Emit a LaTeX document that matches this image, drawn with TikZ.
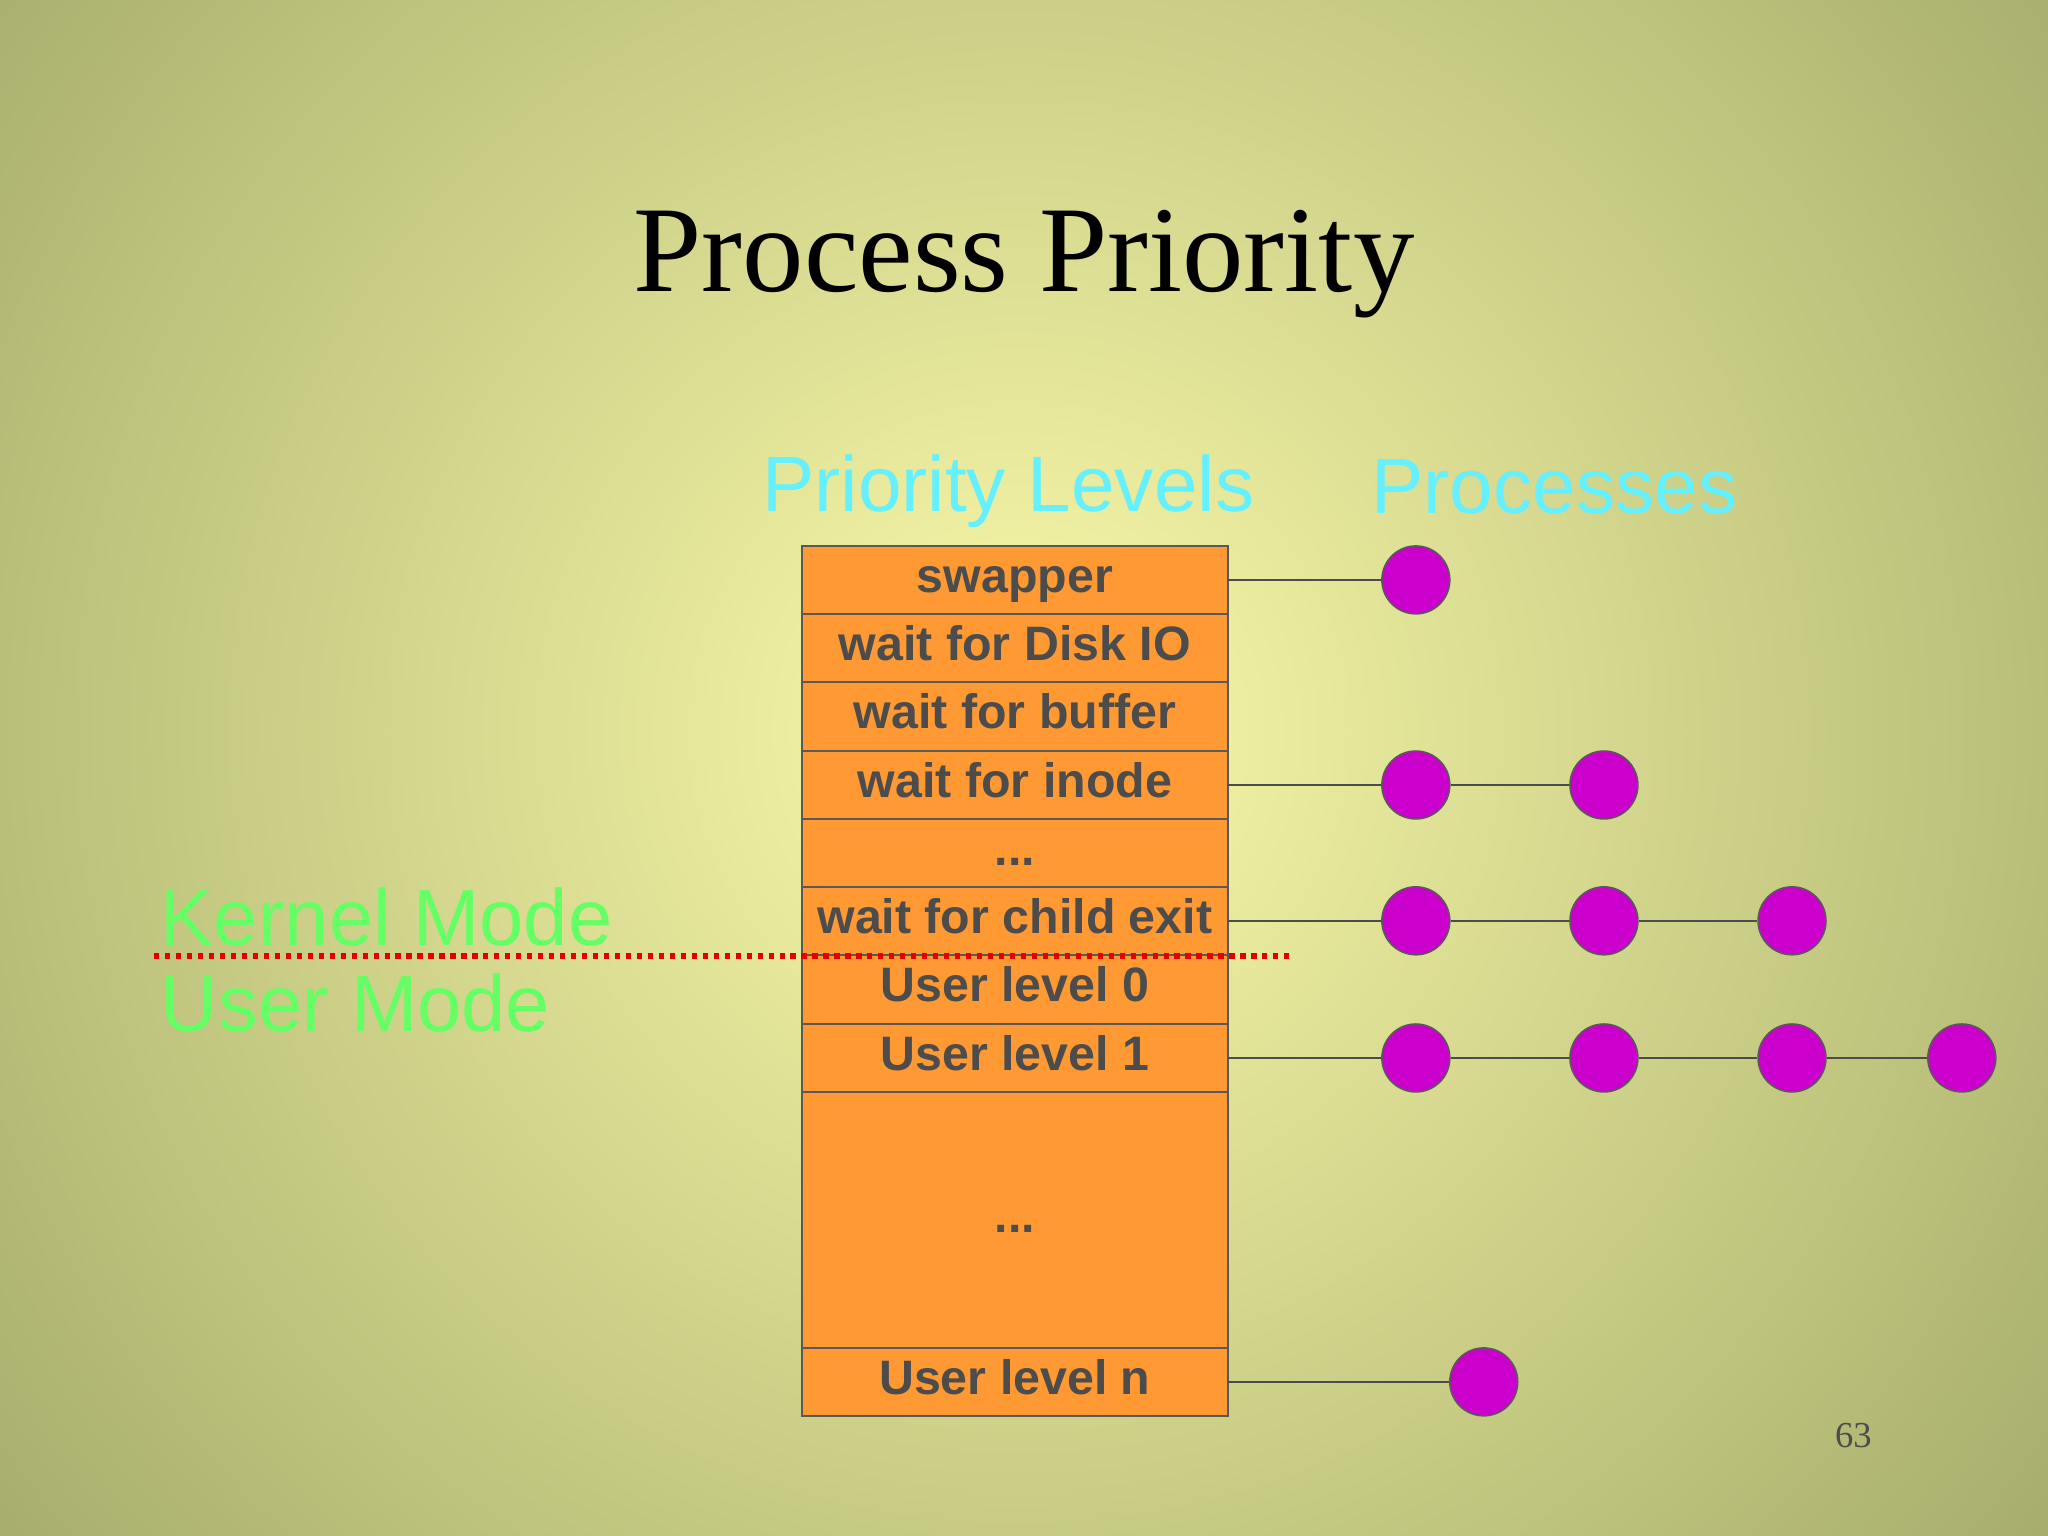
\documentclass[tikz,border=0pt]{standalone}
\usepackage{fontspec}
\setmainfont{Liberation Serif}
\setsansfont{Liberation Sans}
\begin{document}
\begin{tikzpicture}[x=0.5pt,y=-0.5pt,
 lvl/.style={draw=gray!70!black,fill={rgb,255:red,255;green,153;blue,51},line width=0.8pt},
 lvltxt/.style={font=\sffamily\bfseries\fontsize{18.5}{20}\selectfont,text=black!70,text height=13pt,text depth=3.5pt},
 proc/.style={circle,draw=gray!70!black,fill={rgb,255:red,204;green,0;blue,204},minimum size=26pt,inner sep=0pt,line width=0.6pt},
 link/.style={draw=gray!60!black,line width=0.8pt}]
\useasboundingbox (0,0) rectangle (1568,1176);
\begin{scope}
\clip (0,0) rectangle (1568,1176);
\shade[inner color={rgb,255:red,250;green,250;blue,170},outer color={rgb,255:red,150;green,158;blue,95}] (780,560) circle (1200);
\end{scope}
\node[font=\fontsize{47}{52}\selectfont] (title) at (784,202) {Process Priority};
\node[font=\sffamily\fontsize{30}{34}\selectfont,text={rgb,255:red,100;green,240;blue,255}] (pl) at (772,376) {Priority Levels};
\node[font=\sffamily\fontsize{30}{34}\selectfont,text={rgb,255:red,100;green,240;blue,255}] (pr) at (1190,373) {Processes};
\foreach \n/\a/\b/\t in {r1/418/470/{swapper},r2/470/522/{wait for Disk IO},r3/522/575/{wait for buffer},r4/575/627/{wait for inode},r5/627/679/{...},r6/679/731/{wait for child exit},r7/731/784/{User level 0},r8/784/836/{User level 1},r9/836/1032/{...},r10/1032/1084/{User level n}}{
 \draw[lvl] (614,\a) rectangle (940,\b);
 \node[lvltxt] (\n) at (777,{(\a+\b)/2}) {\t};
}
\coordinate (e1) at (940,444);
\coordinate (e4) at (940,601);
\coordinate (e6) at (940,705);
\coordinate (e8) at (940,810);
\coordinate (e10) at (940,1058);
\node[proc] (p1) at (1084,444) {};
\node[proc] (p4a) at (1084,601) {};
\node[proc] (p4b) at (1228,601) {};
\node[proc] (p6a) at (1084,705) {};
\node[proc] (p6b) at (1228,705) {};
\node[proc] (p6c) at (1372,705) {};
\node[proc] (p8a) at (1084,810) {};
\node[proc] (p8b) at (1228,810) {};
\node[proc] (p8c) at (1372,810) {};
\node[proc] (p8d) at (1502,810) {};
\node[proc] (p10) at (1136,1058) {};
\draw[link] (e1) -- (p1);
\draw[link] (e4) -- (p4a) -- (p4b);
\draw[link] (e6) -- (p6a) -- (p6b) -- (p6c);
\draw[link] (e8) -- (p8a) -- (p8b) -- (p8c) -- (p8d);
\draw[link] (e10) -- (p10);
\node[font=\sffamily\fontsize{30.5}{34}\selectfont,text={rgb,255:red,100;green,255;blue,100},anchor=west] (km) at (116,702) {Kernel Mode};
\node[font=\sffamily\fontsize{30.5}{34}\selectfont,text={rgb,255:red,100;green,255;blue,100},anchor=west] (um) at (116,768) {User Mode};
\coordinate (d1) at (118,732);
\coordinate (d2) at (988,732);
\draw[red!90!black,line width=2.2pt,dash pattern=on 2pt off 2.2pt] (d1) -- (d2);
\node[font=\fontsize{14}{16}\selectfont,text=black!70] (pg) at (1419,1099) {63};
\end{tikzpicture}
\end{document}
